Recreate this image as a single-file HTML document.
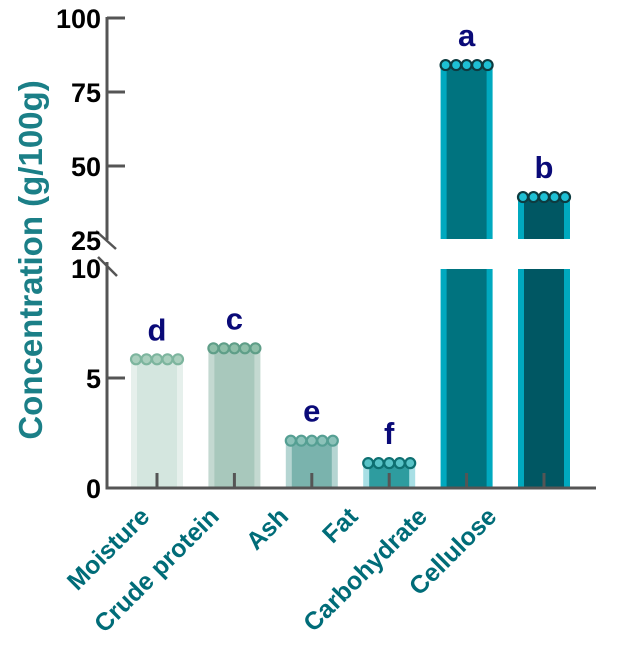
<!DOCTYPE html>
<html><head><meta charset="utf-8"><style>
body{margin:0;background:#fff;}
svg{display:block;font-family:"Liberation Sans",Arial,sans-serif;font-weight:bold;}
</style></head><body>
<svg id="chart" width="624" height="655" viewBox="0 0 624 655" xmlns="http://www.w3.org/2000/svg">
<g id="bars"></g>
<g id="axes"></g>
<text transform="translate(42,260) rotate(-90)" text-anchor="middle" font-size="33" fill="#1b7f87">Concentration (g/100g)</text>
</svg>
<script>
const categories=["Moisture","Crude protein","Ash","Fat","Carbohydrate","Cellulose"];
const values=[5.85,6.35,2.15,1.13,84.1,39.5];
const letters=["d","c","e","f","a","b"];
const lowerTicks=[0,5,10];
const upperTicks=[25,50,75,100];
const fills=["#d4e6df","#a8c8bc","#7ab3ad","#2e9c9f","#00737f","#005763"];
const edges=["#e6f0ec","#c4d9d1","#b5d5d2","#a8dfe5","#00a9bf","#00a9bf"];
const dotFill=["#a9cfbd","#8fbfa9","#8cc2b9","#58c3c7","#1ec0d4","#1ec0d4"];
const dotStroke=["#7db59e","#5f9e88","#559f93","#0e7072","#0d3b40","#0d3b40"];
const NS="http://www.w3.org/2000/svg";
const ax=107, x0=157, step=77.4, bw=52;
const y0=488;
function yLow(v){return y0-v*22;}
function yUp(v){return 92-(v-75)*2.96;}
function yv(v){return v<=10?yLow(v):yUp(v);}
function xc(i){return x0+i*step;}
function mk(tag,attrs,parent){const e=document.createElementNS(NS,tag);for(const k in attrs)e.setAttribute(k,attrs[k]);parent.appendChild(e);return e;}
const bars=document.getElementById('bars'), axes=document.getElementById('axes'), svg=document.getElementById('chart');
values.forEach((v,i)=>{
  const g=mk('g',{},bars);
  
  
  const x=xc(i)-bw/2;
  const top=yv(v)+3;
  const segs=v<=10?[[top,y0]]:[[top,239],[269,y0]];
  segs.forEach(s=>{
    mk('rect',{x:x,y:s[0],width:bw,height:s[1]-s[0],fill:edges[i]},g);
    mk('rect',{x:x+6,y:s[0],width:bw-12,height:s[1]-s[0],fill:fills[i]},g);
  });
  for(let k=0;k<5;k++){
    mk('circle',{cx:x+5+k*(bw-10)/4,cy:yv(v),r:5,fill:dotFill[i],stroke:dotStroke[i],'stroke-width':2.2},g);
  }
  const t=mk('text',{x:xc(i),y:yv(v)-19,'text-anchor':'middle','font-size':31,fill:'#0a0a78'},svg);
  
  
  t.textContent=letters[i];
  mk('line',{x1:xc(i),x2:xc(i),y1:473,y2:y0,stroke:'#555','stroke-width':3},axes);
  const lx=xc(i)-6-8*i;
  const l=mk('text',{transform:`translate(${lx},518) rotate(-45)`,'text-anchor':'end','font-size':25,fill:'#006c78'},svg);
  
  
  l.textContent=categories[i];
});
mk('line',{x1:ax,x2:ax,y1:17,y2:240,stroke:'#555','stroke-width':3},axes);
mk('line',{x1:ax,x2:ax,y1:262,y2:489.5,stroke:'#555','stroke-width':3},axes);
mk('line',{x1:ax-1.5,x2:596,y1:y0,y2:y0,stroke:'#555','stroke-width':3},axes);
mk('line',{x1:96,x2:116,y1:231,y2:249,stroke:'#555','stroke-width':2.5},axes);
mk('line',{x1:98,x2:117,y1:257,y2:276,stroke:'#555','stroke-width':2.5},axes);
lowerTicks.concat(upperTicks).forEach(v=>{
  const y=yv(v);
  if(v!==25&&v!==10) mk('line',{x1:ax,x2:125,y1:y,y2:y,stroke:'#555','stroke-width':3},axes);
  const t=mk('text',{x:101,y:y+10,'text-anchor':'end','font-size':27,fill:'#000'},svg);
  
  
  t.textContent=v;
});
</script>
</body></html>
